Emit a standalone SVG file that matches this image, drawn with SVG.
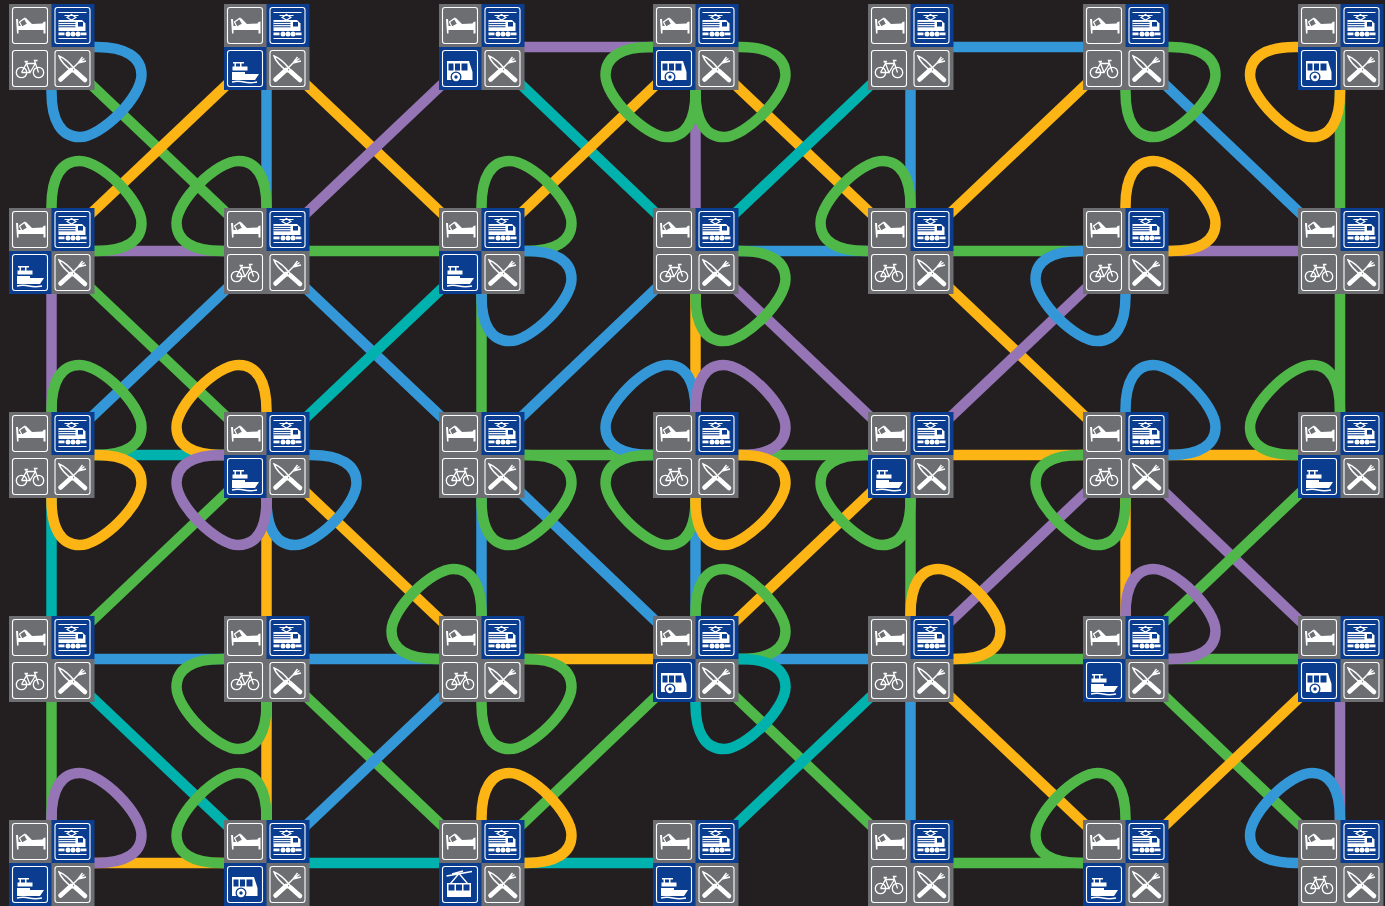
<svg xmlns="http://www.w3.org/2000/svg" width="1385" height="906" viewBox="0 0 1385 906">
<style>
.c line,.c use{fill:none;stroke-width:10.5}
.b{stroke:#3498d8}.g{stroke:#4fb848}.o{stroke:#fdb515}.p{stroke:#9575b5}.t{stroke:#00b2ad}
.gc{fill:#6d6e71}.bc{fill:#0a3d8f}
.f{fill:none;stroke:#fff;stroke-width:1.1}
.w{fill:#fff;stroke:none}
.l{fill:none;stroke:#fff;stroke-width:1.3}
</style>
<defs>
<path id="L" d="M40,0 H45 C74,0 90,10 90,28 C90,50 50,90 28,90 C10,90 0,74 0,45 V40"/>
<g id="bed"><rect class="gc" width="43" height="43"/><rect class="f" x="3.5" y="3.5" width="35" height="36" rx="2.5"/>
<path class="w" d="M7,15 L9,15 L9.5,22 L14,22 L16.5,13.5 L23,20 L33.5,19.5 L34.5,18 L36.5,17.5 V29.5 H34.5 V26 H9.5 V29.5 H8 Z"/>
<path class="gc" stroke="#fff" stroke-width="1.2" d="M10.5,18 L15.5,14.5 L18.5,20 L13,23 Z"/></g>
<g id="train"><rect class="bc" width="43" height="43"/><rect class="f" x="3.5" y="3.5" width="35" height="36" rx="2.5"/>
<rect class="w" x="7" y="8" width="28" height="1"/><path class="f" d="M13,11.5 H27 M20,10.5 L24.5,13.5 L20,16 L15.5,13.5 Z"/>
<path class="w" d="M7,16 H30.5 L34,19.5 V27 H7 Z"/><path d="M7,18.4 H24 M7,20.6 H24 M7,22.8 H24" stroke="#0a3d8f" stroke-width="1"/><rect class="bc" x="26.5" y="18" width="5" height="4.5"/>
<rect class="w" x="7" y="28.5" width="6" height="2.8"/><rect class="w" x="29" y="28.5" width="6" height="2.8"/><circle class="w" cx="16.5" cy="30" r="2.5"/><circle class="w" cx="21.5" cy="30" r="2.5"/><circle class="w" cx="26.5" cy="30" r="2.5"/>
<rect class="w" x="7" y="34" width="28" height="1"/></g>
<g id="bike"><rect class="gc" width="43" height="43"/><rect class="f" x="3.5" y="3.5" width="35" height="36" rx="2.5"/>
<circle class="l" cx="12.5" cy="25.5" r="5.2"/><circle class="l" cx="29.5" cy="25.5" r="5.2"/>
<path class="l" d="M12.5,25.5 L17.5,16.5 H26.5 L29.5,25.5 M17.5,16.5 L21,25.5 H12.5 M21,25.5 L26.5,16.5 L25.5,13.5 H28.5 M15.5,14.5 H19 M16.5,14.5 L17.5,16.5"/></g>
<g id="cut"><rect class="gc" width="43" height="43"/><rect class="f" x="3.5" y="3.5" width="35" height="36" rx="2.5"/>
<path fill="none" stroke="#fff" stroke-width="1.5" d="M7.5,9 C13,11 20,18 24,23 L21.5,25 C15,20 9,14 7.5,9 Z"/><path d="M24,24.5 L33.5,33" stroke="#fff" stroke-width="4.6" stroke-linecap="round"/>
<path d="M9,32.5 L19.5,23" stroke="#fff" stroke-width="4.6" stroke-linecap="round"/><path d="M19.5,23 L26.5,16 L31,10 M26.5,16 L33,11.5 M26.5,16 L34.5,14" stroke="#fff" stroke-width="1.4" fill="none"/></g>
<g id="boat"><rect class="bc" width="43" height="43"/><rect class="f" x="3.5" y="3.5" width="35" height="36" rx="2.5"/>
<rect class="w" x="9" y="15" width="11" height="1.5"/><rect class="w" x="10.5" y="15" width="1.5" height="5"/><rect class="w" x="16" y="15" width="1.5" height="5"/><rect class="w" x="8.5" y="19.5" width="15" height="4"/>
<path class="w" d="M8,25 H21 V27 H35 L31,33 H8 Z"/><path class="l" d="M8,35 Q14,33.5 20,35 T33,35"/></g>
<g id="bus"><rect class="bc" width="43" height="43"/><rect class="f" x="3.5" y="3.5" width="35" height="36" rx="2.5"/>
<rect class="w" x="8" y="14" width="22" height="1.3"/><path class="w" d="M8,14 H30 L33.5,25 V33 H8 Z"/>
<rect class="bc" x="9.5" y="16.5" width="5" height="7"/><rect class="bc" x="16" y="16.5" width="5" height="7"/><rect class="bc" x="22.5" y="16.5" width="6" height="7"/>
<circle class="bc" cx="17" cy="30" r="5.5"/><circle class="w" cx="17" cy="30" r="4.2"/><circle class="bc" cx="17" cy="30" r="1.7"/></g>
<g id="gon"><rect class="bc" width="43" height="43"/><rect class="f" x="3.5" y="3.5" width="35" height="36" rx="2.5"/>
<path class="l" d="M7.5,13 L33,8.5 M13,11 L24,8 M20,10.5 L11.5,20.5 M20,10.5 L28.5,20.5"/>
<rect class="w" x="8" y="20" width="24" height="14"/><rect class="bc" x="9.5" y="21.5" width="6" height="6"/><rect class="bc" x="17" y="21.5" width="6" height="6"/><rect class="bc" x="24.5" y="21.5" width="6" height="6"/></g>
</defs>
<rect width="1385" height="906" fill="#231f20"/>
<g id="connectors" class="c">
<line class="p" x1="51.5" y1="251" x2="51.5" y2="455"/>
<line class="t" x1="51.5" y1="455" x2="51.5" y2="659"/>
<line class="g" x1="51.5" y1="659" x2="51.5" y2="863"/>
<line class="b" x1="266.5" y1="47" x2="266.5" y2="251"/>
<line class="o" x1="266.5" y1="455" x2="266.5" y2="659"/>
<line class="o" x1="266.5" y1="659" x2="266.5" y2="863"/>
<line class="g" x1="481.5" y1="251" x2="481.5" y2="455"/>
<line class="b" x1="481.5" y1="455" x2="481.5" y2="659"/>
<line class="p" x1="695.5" y1="47" x2="695.5" y2="251"/>
<line class="o" x1="695.5" y1="251" x2="695.5" y2="455"/>
<line class="b" x1="695.5" y1="455" x2="695.5" y2="659"/>
<line class="b" x1="910.5" y1="47" x2="910.5" y2="251"/>
<line class="g" x1="910.5" y1="455" x2="910.5" y2="659"/>
<line class="b" x1="910.5" y1="659" x2="910.5" y2="863"/>
<line class="o" x1="1125.5" y1="455" x2="1125.5" y2="659"/>
<line class="g" x1="1340" y1="47" x2="1340" y2="251"/>
<line class="g" x1="1340" y1="251" x2="1340" y2="455"/>
<line class="p" x1="1340" y1="659" x2="1340" y2="863"/>
<line class="p" x1="481.5" y1="47" x2="695.5" y2="47"/>
<line class="b" x1="910.5" y1="47" x2="1125.5" y2="47"/>
<line class="p" x1="51.5" y1="251" x2="266.5" y2="251"/>
<line class="g" x1="266.5" y1="251" x2="481.5" y2="251"/>
<line class="b" x1="695.5" y1="251" x2="910.5" y2="251"/>
<line class="g" x1="910.5" y1="251" x2="1125.5" y2="251"/>
<line class="p" x1="1125.5" y1="251" x2="1340" y2="251"/>
<line class="t" x1="51.5" y1="455" x2="266.5" y2="455"/>
<line class="g" x1="481.5" y1="455" x2="695.5" y2="455"/>
<line class="g" x1="695.5" y1="455" x2="910.5" y2="455"/>
<line class="o" x1="910.5" y1="455" x2="1125.5" y2="455"/>
<line class="o" x1="1125.5" y1="455" x2="1340" y2="455"/>
<line class="b" x1="51.5" y1="659" x2="266.5" y2="659"/>
<line class="b" x1="266.5" y1="659" x2="481.5" y2="659"/>
<line class="o" x1="481.5" y1="659" x2="695.5" y2="659"/>
<line class="b" x1="695.5" y1="659" x2="910.5" y2="659"/>
<line class="g" x1="910.5" y1="659" x2="1125.5" y2="659"/>
<line class="g" x1="1125.5" y1="659" x2="1340" y2="659"/>
<line class="o" x1="51.5" y1="863" x2="266.5" y2="863"/>
<line class="t" x1="266.5" y1="863" x2="481.5" y2="863"/>
<line class="t" x1="481.5" y1="863" x2="695.5" y2="863"/>
<line class="g" x1="910.5" y1="863" x2="1125.5" y2="863"/>
<line class="g" x1="51.5" y1="47" x2="266.5" y2="251"/>
<line class="o" x1="51.5" y1="251" x2="266.5" y2="47"/>
<line class="o" x1="266.5" y1="47" x2="481.5" y2="251"/>
<line class="p" x1="266.5" y1="251" x2="481.5" y2="47"/>
<line class="t" x1="481.5" y1="47" x2="695.5" y2="251"/>
<line class="o" x1="481.5" y1="251" x2="695.5" y2="47"/>
<line class="o" x1="695.5" y1="47" x2="910.5" y2="251"/>
<line class="t" x1="695.5" y1="251" x2="910.5" y2="47"/>
<line class="o" x1="910.5" y1="251" x2="1125.5" y2="47"/>
<line class="b" x1="1125.5" y1="47" x2="1340" y2="251"/>
<line class="g" x1="51.5" y1="251" x2="266.5" y2="455"/>
<line class="b" x1="51.5" y1="455" x2="266.5" y2="251"/>
<line class="b" x1="266.5" y1="251" x2="481.5" y2="455"/>
<line class="t" x1="266.5" y1="455" x2="481.5" y2="251"/>
<line class="b" x1="481.5" y1="455" x2="695.5" y2="251"/>
<line class="p" x1="695.5" y1="251" x2="910.5" y2="455"/>
<line class="o" x1="910.5" y1="251" x2="1125.5" y2="455"/>
<line class="p" x1="910.5" y1="455" x2="1125.5" y2="251"/>
<line class="g" x1="51.5" y1="659" x2="266.5" y2="455"/>
<line class="o" x1="266.5" y1="455" x2="481.5" y2="659"/>
<line class="b" x1="481.5" y1="455" x2="695.5" y2="659"/>
<line class="o" x1="695.5" y1="659" x2="910.5" y2="455"/>
<line class="p" x1="910.5" y1="659" x2="1125.5" y2="455"/>
<line class="p" x1="1125.5" y1="455" x2="1340" y2="659"/>
<line class="g" x1="1125.5" y1="659" x2="1340" y2="455"/>
<line class="t" x1="51.5" y1="659" x2="266.5" y2="863"/>
<line class="g" x1="266.5" y1="659" x2="481.5" y2="863"/>
<line class="b" x1="266.5" y1="863" x2="481.5" y2="659"/>
<line class="g" x1="481.5" y1="863" x2="695.5" y2="659"/>
<line class="g" x1="695.5" y1="659" x2="910.5" y2="863"/>
<line class="t" x1="695.5" y1="863" x2="910.5" y2="659"/>
<line class="o" x1="910.5" y1="659" x2="1125.5" y2="863"/>
<line class="g" x1="1125.5" y1="659" x2="1340" y2="863"/>
<line class="o" x1="1125.5" y1="863" x2="1340" y2="659"/>
<use href="#L" class="b" transform="translate(51.5,47)"/>
<use href="#L" class="g" transform="translate(695.5,47) rotate(90)"/>
<use href="#L" class="g" transform="translate(695.5,47)"/>
<use href="#L" class="g" transform="translate(1125.5,47)"/>
<use href="#L" class="o" transform="translate(1340,47) rotate(90)"/>
<use href="#L" class="g" transform="translate(51.5,251) rotate(270)"/>
<use href="#L" class="g" transform="translate(266.5,251) rotate(180)"/>
<use href="#L" class="g" transform="translate(481.5,251) rotate(270)"/>
<use href="#L" class="b" transform="translate(481.5,251)"/>
<use href="#L" class="g" transform="translate(695.5,251)"/>
<use href="#L" class="g" transform="translate(910.5,251) rotate(180)"/>
<use href="#L" class="o" transform="translate(1125.5,251) rotate(270)"/>
<use href="#L" class="b" transform="translate(1125.5,251) rotate(90)"/>
<use href="#L" class="g" transform="translate(51.5,455) rotate(270)"/>
<use href="#L" class="o" transform="translate(51.5,455)"/>
<use href="#L" class="o" transform="translate(266.5,455) rotate(180)"/>
<use href="#L" class="b" transform="translate(266.5,455)"/>
<use href="#L" class="p" transform="translate(266.5,455) rotate(90)"/>
<use href="#L" class="g" transform="translate(481.5,455)"/>
<use href="#L" class="b" transform="translate(695.5,455) rotate(180)"/>
<use href="#L" class="p" transform="translate(695.5,455) rotate(270)"/>
<use href="#L" class="g" transform="translate(695.5,455) rotate(90)"/>
<use href="#L" class="o" transform="translate(695.5,455)"/>
<use href="#L" class="g" transform="translate(910.5,455) rotate(90)"/>
<use href="#L" class="b" transform="translate(1125.5,455) rotate(270)"/>
<use href="#L" class="g" transform="translate(1125.5,455) rotate(90)"/>
<use href="#L" class="g" transform="translate(1340,455) rotate(180)"/>
<use href="#L" class="g" transform="translate(266.5,659) rotate(90)"/>
<use href="#L" class="g" transform="translate(481.5,659) rotate(180)"/>
<use href="#L" class="g" transform="translate(481.5,659)"/>
<use href="#L" class="g" transform="translate(695.5,659) rotate(270)"/>
<use href="#L" class="t" transform="translate(695.5,659)"/>
<use href="#L" class="o" transform="translate(910.5,659) rotate(270)"/>
<use href="#L" class="p" transform="translate(1125.5,659) rotate(270)"/>
<use href="#L" class="p" transform="translate(51.5,863) rotate(270)"/>
<use href="#L" class="g" transform="translate(266.5,863) rotate(180)"/>
<use href="#L" class="o" transform="translate(481.5,863) rotate(270)"/>
<use href="#L" class="g" transform="translate(1125.5,863) rotate(180)"/>
<use href="#L" class="b" transform="translate(1340,863) rotate(180)"/>
</g>
<g id="n00" transform="translate(9,4)"><use href="#bed"/><use href="#train" x="42.5"/><use href="#bike" y="43"/><use href="#cut" x="42.5" y="43"/></g>
<g id="n01" transform="translate(224,4)"><use href="#bed"/><use href="#train" x="42.5"/><use href="#boat" y="43"/><use href="#cut" x="42.5" y="43"/></g>
<g id="n02" transform="translate(439,4)"><use href="#bed"/><use href="#train" x="42.5"/><use href="#bus" y="43"/><use href="#cut" x="42.5" y="43"/></g>
<g id="n03" transform="translate(653,4)"><use href="#bed"/><use href="#train" x="42.5"/><use href="#bus" y="43"/><use href="#cut" x="42.5" y="43"/></g>
<g id="n04" transform="translate(868,4)"><use href="#bed"/><use href="#train" x="42.5"/><use href="#bike" y="43"/><use href="#cut" x="42.5" y="43"/></g>
<g id="n05" transform="translate(1083,4)"><use href="#bed"/><use href="#train" x="42.5"/><use href="#bike" y="43"/><use href="#cut" x="42.5" y="43"/></g>
<g id="n06" transform="translate(1298,4)"><use href="#bed"/><use href="#train" x="42.5"/><use href="#bus" y="43"/><use href="#cut" x="42.5" y="43"/></g>
<g id="n10" transform="translate(9,208)"><use href="#bed"/><use href="#train" x="42.5"/><use href="#boat" y="43"/><use href="#cut" x="42.5" y="43"/></g>
<g id="n11" transform="translate(224,208)"><use href="#bed"/><use href="#train" x="42.5"/><use href="#bike" y="43"/><use href="#cut" x="42.5" y="43"/></g>
<g id="n12" transform="translate(439,208)"><use href="#bed"/><use href="#train" x="42.5"/><use href="#boat" y="43"/><use href="#cut" x="42.5" y="43"/></g>
<g id="n13" transform="translate(653,208)"><use href="#bed"/><use href="#train" x="42.5"/><use href="#bike" y="43"/><use href="#cut" x="42.5" y="43"/></g>
<g id="n14" transform="translate(868,208)"><use href="#bed"/><use href="#train" x="42.5"/><use href="#bike" y="43"/><use href="#cut" x="42.5" y="43"/></g>
<g id="n15" transform="translate(1083,208)"><use href="#bed"/><use href="#train" x="42.5"/><use href="#bike" y="43"/><use href="#cut" x="42.5" y="43"/></g>
<g id="n16" transform="translate(1298,208)"><use href="#bed"/><use href="#train" x="42.5"/><use href="#bike" y="43"/><use href="#cut" x="42.5" y="43"/></g>
<g id="n20" transform="translate(9,412)"><use href="#bed"/><use href="#train" x="42.5"/><use href="#bike" y="43"/><use href="#cut" x="42.5" y="43"/></g>
<g id="n21" transform="translate(224,412)"><use href="#bed"/><use href="#train" x="42.5"/><use href="#boat" y="43"/><use href="#cut" x="42.5" y="43"/></g>
<g id="n22" transform="translate(439,412)"><use href="#bed"/><use href="#train" x="42.5"/><use href="#bike" y="43"/><use href="#cut" x="42.5" y="43"/></g>
<g id="n23" transform="translate(653,412)"><use href="#bed"/><use href="#train" x="42.5"/><use href="#bike" y="43"/><use href="#cut" x="42.5" y="43"/></g>
<g id="n24" transform="translate(868,412)"><use href="#bed"/><use href="#train" x="42.5"/><use href="#boat" y="43"/><use href="#cut" x="42.5" y="43"/></g>
<g id="n25" transform="translate(1083,412)"><use href="#bed"/><use href="#train" x="42.5"/><use href="#bike" y="43"/><use href="#cut" x="42.5" y="43"/></g>
<g id="n26" transform="translate(1298,412)"><use href="#bed"/><use href="#train" x="42.5"/><use href="#boat" y="43"/><use href="#cut" x="42.5" y="43"/></g>
<g id="n30" transform="translate(9,616)"><use href="#bed"/><use href="#train" x="42.5"/><use href="#bike" y="43"/><use href="#cut" x="42.5" y="43"/></g>
<g id="n31" transform="translate(224,616)"><use href="#bed"/><use href="#train" x="42.5"/><use href="#bike" y="43"/><use href="#cut" x="42.5" y="43"/></g>
<g id="n32" transform="translate(439,616)"><use href="#bed"/><use href="#train" x="42.5"/><use href="#bike" y="43"/><use href="#cut" x="42.5" y="43"/></g>
<g id="n33" transform="translate(653,616)"><use href="#bed"/><use href="#train" x="42.5"/><use href="#bus" y="43"/><use href="#cut" x="42.5" y="43"/></g>
<g id="n34" transform="translate(868,616)"><use href="#bed"/><use href="#train" x="42.5"/><use href="#bike" y="43"/><use href="#cut" x="42.5" y="43"/></g>
<g id="n35" transform="translate(1083,616)"><use href="#bed"/><use href="#train" x="42.5"/><use href="#boat" y="43"/><use href="#cut" x="42.5" y="43"/></g>
<g id="n36" transform="translate(1298,616)"><use href="#bed"/><use href="#train" x="42.5"/><use href="#bus" y="43"/><use href="#cut" x="42.5" y="43"/></g>
<g id="n40" transform="translate(9,820)"><use href="#bed"/><use href="#train" x="42.5"/><use href="#boat" y="43"/><use href="#cut" x="42.5" y="43"/></g>
<g id="n41" transform="translate(224,820)"><use href="#bed"/><use href="#train" x="42.5"/><use href="#bus" y="43"/><use href="#cut" x="42.5" y="43"/></g>
<g id="n42" transform="translate(439,820)"><use href="#bed"/><use href="#train" x="42.5"/><use href="#gon" y="43"/><use href="#cut" x="42.5" y="43"/></g>
<g id="n43" transform="translate(653,820)"><use href="#bed"/><use href="#train" x="42.5"/><use href="#boat" y="43"/><use href="#cut" x="42.5" y="43"/></g>
<g id="n44" transform="translate(868,820)"><use href="#bed"/><use href="#train" x="42.5"/><use href="#bike" y="43"/><use href="#cut" x="42.5" y="43"/></g>
<g id="n45" transform="translate(1083,820)"><use href="#bed"/><use href="#train" x="42.5"/><use href="#boat" y="43"/><use href="#cut" x="42.5" y="43"/></g>
<g id="n46" transform="translate(1298,820)"><use href="#bed"/><use href="#train" x="42.5"/><use href="#bike" y="43"/><use href="#cut" x="42.5" y="43"/></g>
</svg>
